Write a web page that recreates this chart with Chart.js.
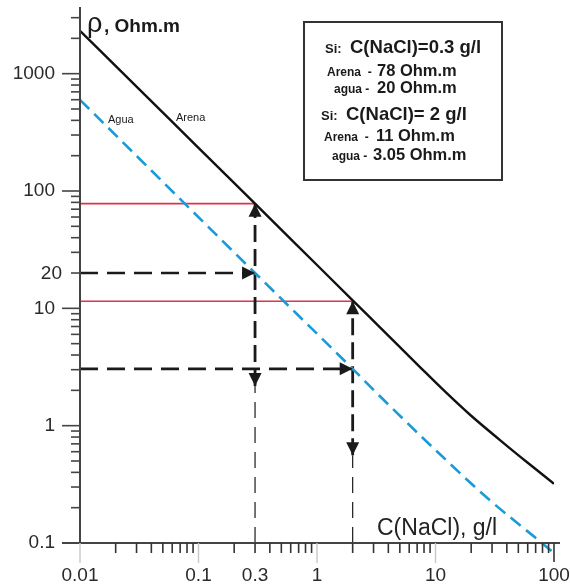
<!DOCTYPE html>
<html><head><meta charset="utf-8">
<script src="https://cdn.jsdelivr.net/npm/chart.js@4/dist/chart.umd.min.js"></script>
<style>html,body{margin:0;padding:0;background:#fff}canvas{display:block}</style>
</head><body>
<canvas id="c" width="570" height="585"></canvas>
<script>
// ---- data ----
const arenaConc = [0.01, 0.03, 0.1, 0.3, 1, 2, 3.4, 7.4, 12, 20, 35, 60, 100];
const arenaRho  = [2320, 777, 233, 78, 23.4, 11.7, 6.88, 3.16, 1.96, 1.215, 0.754, 0.483, 0.32];
const aguaConc  = [0.01, 0.3, 2, 3.4, 10, 28, 79, 100];
const aguaRho   = [598, 20, 3.05, 1.78, 0.62, 0.237, 0.1, 0.082];
const xTickValues = [0.01, 0.1, 0.3, 1, 10, 100];
const xTickLabels = ['0.01', '0.1', '0.3', '1', '10', '100'];
const yTickValues = [0.1, 1, 10, 100, 1000];
const yTickLabels = ['0.1', '1', '10', '100', '1000'];
const yExtraTick = [20];
const yExtraLabel = ['20'];
const readConc  = [0.3, 2];      // concentrations read
const readArena = [78, 11.5];    // sand resistivity lines as drawn
const readAgua  = [20, 3.05];    // water resistivity lines as drawn
const readLow   = [2.18, 0.56];  // lower end of the bold vertical arrows
const axisMinX = 0.01, axisMaxX = 100, axisMinY = 0.1, axisMaxY = 3700;

const FONT = "'Liberation Sans', Arial, sans-serif";
const pts = (xs, ys) => xs.map((v, i) => ({x: v, y: ys[i]}));

const datasets = [
  {data: pts(arenaConc, arenaRho), borderColor: '#111', borderWidth: 2.4, pointRadius: 0, cubicInterpolationMode: 'monotone'},
  {data: pts(aguaConc, aguaRho), borderColor: '#1b9ad8', borderWidth: 2.6, borderDash: [13, 7], pointRadius: 0, clip: false, cubicInterpolationMode: 'monotone'}
];
readConc.forEach((c, i) => {
  datasets.push({data: [{x: axisMinX, y: readArena[i]}, {x: c, y: readArena[i]}], borderColor: '#e3304b', borderWidth: 1.6, pointRadius: 0});
  datasets.push({data: [{x: axisMinX, y: readAgua[i]}, {x: c, y: readAgua[i]}], borderColor: '#1a1a1a', borderWidth: 2.6, borderDash: [18, 9], pointRadius: 0});
  datasets.push({data: [{x: c, y: readLow[i]}, {x: c, y: readArena[i]}], borderColor: '#1a1a1a', borderWidth: 2.8, borderDash: [17, 7], pointRadius: 0});
  datasets.push({data: [{x: c, y: axisMinY}, {x: c, y: readLow[i]}], borderColor: '#1a1a1a', borderWidth: 1.2, borderDash: [16, 9], pointRadius: 0});
});

function line(ctx, x1, y1, x2, y2) { ctx.beginPath(); ctx.moveTo(x1, y1); ctx.lineTo(x2, y2); ctx.stroke(); }
function arrow(ctx, px, py, dir) {
  const L = 13, W = 6.5;
  ctx.beginPath();
  ctx.moveTo(px, py);
  if (dir === 'right') { ctx.lineTo(px - L, py - W); ctx.lineTo(px - L, py + W); }
  if (dir === 'up')    { ctx.lineTo(px - W, py + L); ctx.lineTo(px + W, py + L); }
  if (dir === 'down')  { ctx.lineTo(px - W, py - L); ctx.lineTo(px + W, py - L); }
  ctx.closePath(); ctx.fill();
}

const overlay = {
  id: 'overlay',
  afterDatasetsDraw(chart) {
    const {ctx, chartArea} = chart;
    const xs = chart.scales.x, ys = chart.scales.y;
    const X = v => xs.getPixelForValue(v), Y = v => ys.getPixelForValue(v);
    ctx.save();
    const x0 = X(axisMinX), y0 = Y(axisMinY);
    ctx.strokeStyle = '#444'; ctx.lineWidth = 2;
    line(ctx, x0, chartArea.top, x0, y0);
    line(ctx, x0 - 18, y0, X(axisMaxX) + 6, y0);
    ctx.lineWidth = 1.6; ctx.strokeStyle = '#444';
    for (let e = -1; e <= 3; e++) {
      for (let m = 1; m <= 9; m++) {
        const v = m * Math.pow(10, e);
        if (v > axisMaxY) continue;
        const py = Y(v);
        if (m === 1) line(ctx, x0 - 18, py, x0, py);
        else line(ctx, x0 - 9, py, x0, py);
      }
    }
    for (let e = -2; e <= 2; e++) {
      for (let m = 1; m <= 9; m++) {
        const v = m * Math.pow(10, e);
        if (v > axisMaxX) continue;
        const px = X(v);
        if (m === 1 && v < axisMaxX) { ctx.strokeStyle = '#c8c8c8'; ctx.lineWidth = 1.4; line(ctx, px, y0, px, y0 + 20); }
        else if (m === 1) { ctx.strokeStyle = '#333'; ctx.lineWidth = 1.6; line(ctx, px, y0, px, y0 + 19); }
        else { ctx.strokeStyle = '#333'; ctx.lineWidth = 1.6; line(ctx, px, y0, px, y0 + 10); }
      }
    }
    ctx.fillStyle = '#2a2a2a'; ctx.font = `19px ${FONT}`; ctx.textAlign = 'right'; ctx.textBaseline = 'middle';
    yExtraTick.forEach((v, i) => ctx.fillText(yExtraLabel[i], x0 - 18, Y(v) + 1));
    ctx.fillStyle = '#1a1a1a';
    readConc.forEach((c, i) => {
      arrow(ctx, X(c), Y(readAgua[i]), 'right');
      arrow(ctx, X(c), Y(readArena[i]), 'up');
      arrow(ctx, X(c), Y(readLow[i]), 'down');
    });
    ctx.textAlign = 'left'; ctx.textBaseline = 'alphabetic'; ctx.fillStyle = '#1a1a1a';
    ctx.font = `27px ${FONT}`; ctx.fillText('ρ', 87, 32);
    ctx.font = `bold 19px ${FONT}`; ctx.fillText(', Ohm.m', 104, 32);
    ctx.font = `23px ${FONT}`; ctx.fillStyle = '#222'; ctx.fillText('C(NaCl), g/l', 377, 535);
    ctx.fillStyle = '#1a1a1a'; ctx.font = `11px ${FONT}`;
    ctx.fillText('Agua', 108, 123);
    ctx.fillText('Arena', 176, 121);
    ctx.strokeStyle = '#333'; ctx.lineWidth = 2;
    ctx.strokeRect(304, 22, 198, 158);
    const B = s => `bold ${s}px ${FONT}`;
    const rows = [
      [[325, 13, 'Si:'], [350, 18.5, 'C(NaCl)=0.3 g/l'], 53],
      [[327, 12, 'Arena  -'], [377, 16.5, '78 Ohm.m'], 76],
      [[334, 12, 'agua -'], [377, 16.5, '20 Ohm.m'], 93],
      [[321, 13, 'Si:'], [346, 18.5, 'C(NaCl)= 2 g/l'], 120],
      [[324, 12, 'Arena  -'], [376, 16.5, '11 Ohm.m'], 141],
      [[332, 12, 'agua -'], [373, 16.5, '3.05 Ohm.m'], 160]
    ];
    rows.forEach(r => {
      ctx.font = B(r[0][1]); ctx.fillText(r[0][2], r[0][0], r[2]);
      ctx.font = B(r[1][1]); ctx.fillText(r[1][2], r[1][0], r[2]);
    });
    ctx.restore();
  }
};

new Chart(document.getElementById('c'), {
  type: 'line',
  data: {datasets},
  options: {
    responsive: false, animation: false, devicePixelRatio: 1,
    layout: {padding: {left: 0, right: 16, top: 7, bottom: 0}},
    plugins: {legend: {display: false}, tooltip: {enabled: false}},
    scales: {
      x: {
        type: 'logarithmic', position: 'bottom', min: axisMinX, max: axisMaxX,
        grid: {display: false, drawTicks: false}, border: {display: false},
        afterBuildTicks: s => { s.ticks = xTickValues.map(v => ({value: v})); },
        afterFit: s => { s.height = 42; s.paddingLeft = 0; s.paddingRight = 0; },
        ticks: {autoSkip: false, maxRotation: 0, padding: 21, color: '#2a2a2a', font: {family: FONT, size: 19},
          callback: (v, i) => xTickLabels[i]}
      },
      y: {
        type: 'logarithmic', position: 'left', min: axisMinY, max: axisMaxY,
        grid: {display: false, drawTicks: false}, border: {display: false},
        afterBuildTicks: s => { s.ticks = yTickValues.map(v => ({value: v})); },
        afterFit: s => { s.width = 80; s.paddingTop = 0; s.paddingBottom = 0; },
        ticks: {autoSkip: false, padding: 25, color: '#2a2a2a', font: {family: FONT, size: 19},
          callback: (v, i) => yTickLabels[i]}
      }
    }
  },
  plugins: [overlay]
});
</script>
</body></html>
